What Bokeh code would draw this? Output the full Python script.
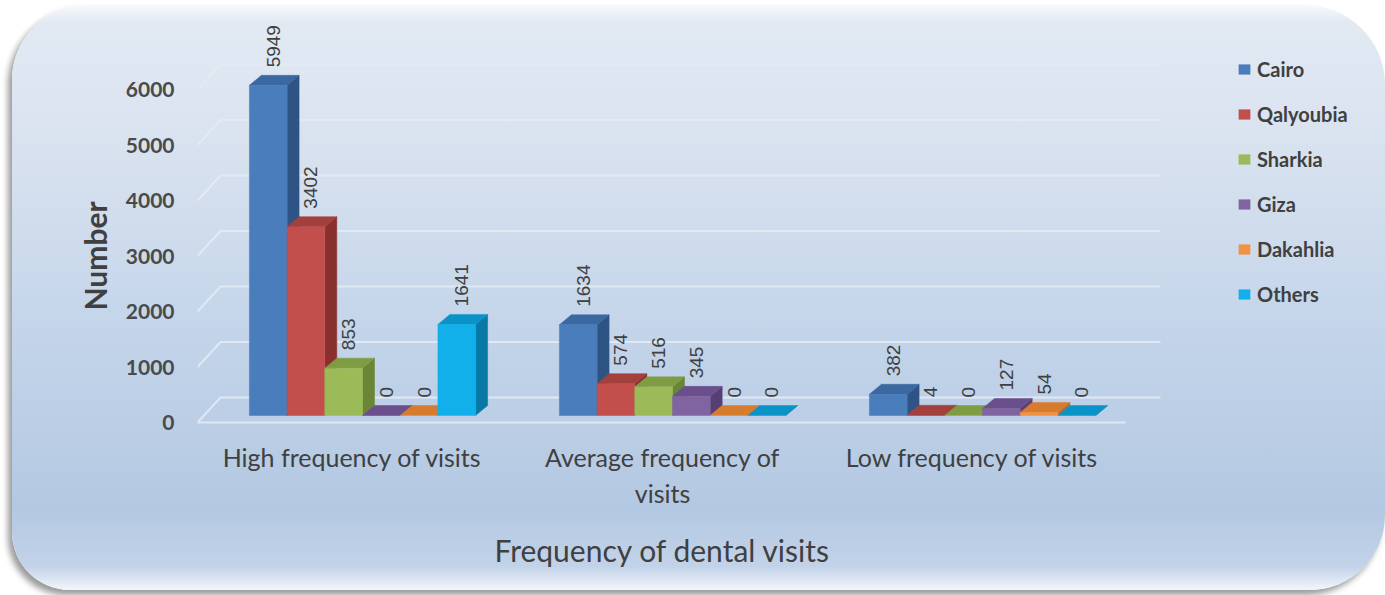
import math
from bokeh.plotting import figure
from bokeh.models import Range1d, FixedTicker, Legend, LegendItem, Title
from bokeh.embed import file_html
from bokeh.resources import INLINE
from bokeh.core.properties import value

# ---------------- data ----------------
categories = ["High frequency of visits", "Average frequency of\nvisits", "Low frequency of visits"]
series_names = ["Cairo", "Qalyoubia", "Sharkia", "Giza", "Dakahlia", "Others"]
cairo = [5949, 1634, 382]
qalyoubia = [3402, 574, 4]
sharkia = [853, 516, 0]
giza = [0, 345, 127]
dakahlia = [0, 0, 54]
others = [1641, 0, 0]
y_ticks = [0, 1000, 2000, 3000, 4000, 5000, 6000]
x_title = "Frequency of dental visits"
y_title = "Number"

series_values = [cairo, qalyoubia, sharkia, giza, dakahlia, others]
front_colors = ["#4a7dbb", "#c24f4c", "#9bbb59", "#8064a2", "#f39242", "#12b0ea"]
top_colors = ["#3b68a0", "#a33f3c", "#7f9c43", "#6a4f8c", "#d77b2f", "#0a93c6"]
side_colors = ["#2e5485", "#89302e", "#6a8535", "#563f73", "#b8672a", "#0879a5"]

# ---------------- layout (pixels) ----------------
OX, OY = 12, 5
W, H = 1373, 585
FL, FR, FT, FB = 197 - OX, 1369 - OX, 15 - OY, 432 - OY
PX_X = 310.0
PX_Y = 0.0555
Y0_UP = 10
y_start = -Y0_UP / PX_Y
y_end = y_start + (FB - FT) / PX_Y
x_end = (FR - FL) / PX_X

def ux(px):
    return px / PX_X

def uy(px):
    return px / PX_Y

FONT = "Lato"
TXT = "#404040"

p = figure(width=W, height=H,
           x_range=Range1d(0, x_end), y_range=Range1d(y_start, y_end),
           output_backend="svg", toolbar_location=None,
           min_border_left=FL, min_border_right=W - FR,
           min_border_top=FT, min_border_bottom=H - FB)
p.background_fill_color = None
p.border_fill_color = None
p.outline_line_color = None
p.xgrid.visible = False
p.ygrid.visible = False
p.styles = {
    "margin-left": f"{OX}px",
    "margin-top": f"{OY}px",
    "background": "linear-gradient(180deg, #f7f9fc 0%, #e2e9f3 3%, #d8e2ef 25%, #c4d5ea 55%, #b3c8e2 86%, #c2d3e9 96%, #f2f6fb 100%)",
    "border-radius": "75px 80px 75px 58px",
    "box-shadow": "-4px 5px 6px rgba(0,0,0,0.40)",
}

# ---------------- 3D geometry ----------------
back_dx, back_dy = ux(23), uy(25)
front_dx, front_dy = ux(10), uy(7)
depth_dx, depth_dy = ux(12), uy(10)
bw = ux(37.7)
grp_off = (1 - len(series_names) * bw) / 2
n_cat = len(categories)

gx_end = n_cat + ux(33)
xs, ys = [], []
for t in y_ticks:
    xs.append([0, back_dx, gx_end])
    ys.append([t, t + back_dy, t + back_dy])
xs.append([0, n_cat - ux(2)])
ys.append([0, 0])
p.multi_line(xs=xs, ys=ys, line_color="#e3eaf3", line_width=2, line_alpha=0.9)

legend_items = []
for s, vals in enumerate(series_values):
    x0 = [g + grp_off + s * bw + front_dx for g in range(n_cat)]
    x1 = [a + bw for a in x0]
    tops = [front_dy + v for v in vals]
    side_xs = [[b, b, b + depth_dx, b + depth_dx] for b in x1]
    side_ys = [[front_dy, t, t + depth_dy, front_dy + depth_dy] for t in tops]
    p.patches(xs=side_xs, ys=side_ys, fill_color=side_colors[s], line_color=side_colors[s], line_width=0.5)
    top_xs = [[a, b, b + depth_dx, a + depth_dx] for a, b in zip(x0, x1)]
    top_ys = [[t, t, t + depth_dy, t + depth_dy] for t in tops]
    p.patches(xs=top_xs, ys=top_ys, fill_color=top_colors[s], line_color=top_colors[s], line_width=0.5)
    r = p.quad(left=x0, right=x1, bottom=[front_dy] * n_cat, top=tops,
               fill_color=front_colors[s], line_color=front_colors[s], line_width=0.5)
    legend_items.append(LegendItem(label=series_names[s], renderers=[r]))
    p.text(x=[(a + b) / 2 + ux(5) for a, b in zip(x0, x1)],
           y=[t + depth_dy + uy(8) for t in tops],
           text=[str(v) for v in vals], angle=math.pi / 2,
           text_align="left", text_baseline="middle",
           text_font=value("Liberation Sans"), text_font_size="19px", text_color=TXT)

# ---------------- axes ----------------
p.xaxis.ticker = FixedTicker(ticks=[i + 0.5 for i in range(n_cat)])
p.xaxis.major_label_overrides = {i + 0.5: c for i, c in enumerate(categories)}
p.xaxis.axis_line_color = None
p.xaxis.major_tick_line_color = None
p.xaxis.minor_tick_line_color = None
p.xaxis.major_label_standoff = 3
p.xaxis.major_label_text_font = FONT
p.xaxis.major_label_text_font_size = "25px"
p.xaxis.major_label_text_color = TXT

p.yaxis.ticker = FixedTicker(ticks=y_ticks)
p.yaxis.axis_line_color = None
p.yaxis.major_tick_line_color = None
p.yaxis.minor_tick_line_color = None
p.yaxis.major_label_standoff = 17
p.yaxis.major_label_text_font = FONT
p.yaxis.major_label_text_font_style = "bold"
p.yaxis.major_label_text_font_size = "21px"
p.yaxis.major_label_text_color = "#4a4a4a"

p.add_layout(Title(text=y_title, align="left", offset=122, standoff=20,
                   text_font=FONT, text_font_style="bold", text_font_size="30px",
                   text_color=TXT), "left")
p.add_layout(Title(text=x_title, align="left", offset=297, standoff=39,
                   text_font=FONT, text_font_style="normal", text_font_size="30px",
                   text_color=TXT), "below")

legend = Legend(items=legend_items, location=(1237 - 197, 126),
                glyph_width=14, glyph_height=12, label_height=24, spacing=21,
                label_standoff=6, padding=0, margin=0,
                label_text_font=FONT, label_text_font_style="bold",
                label_text_font_size="20px", label_text_color=TXT,
                background_fill_alpha=0, border_line_color=None)
p.add_layout(legend)

open("out.html", "w").write(file_html(p, INLINE))
